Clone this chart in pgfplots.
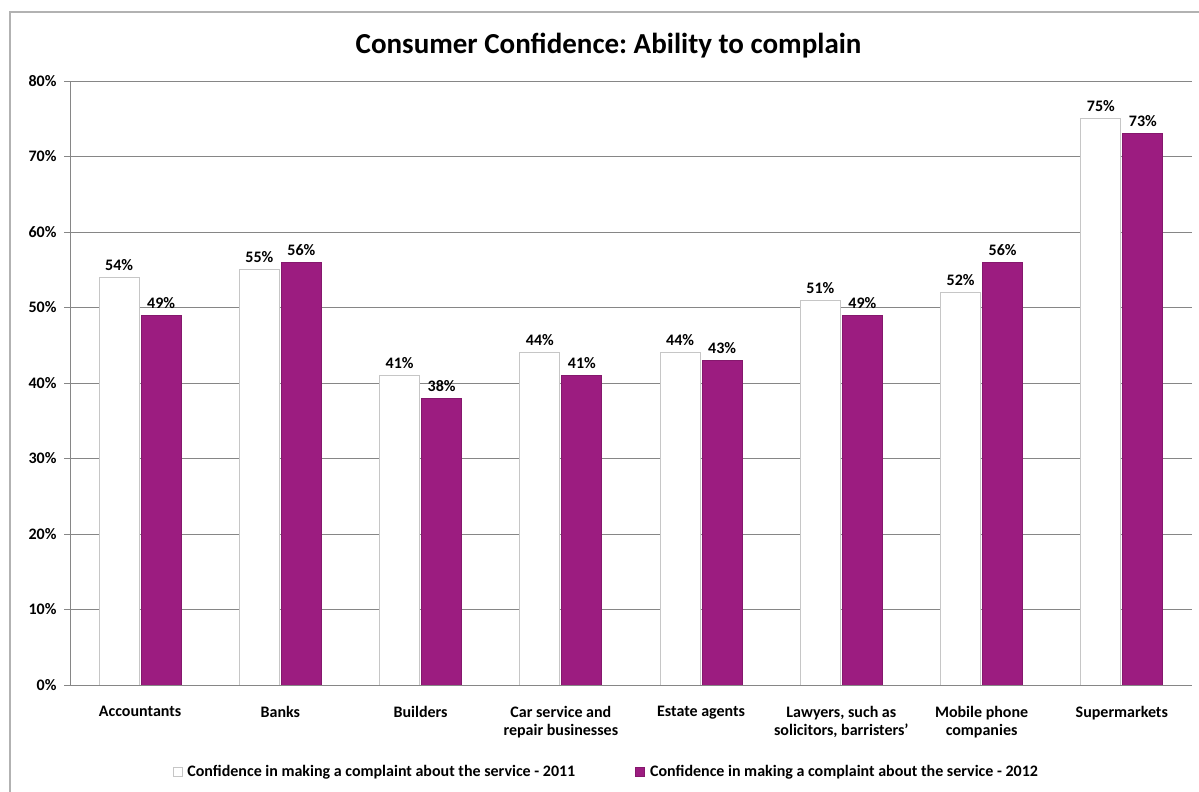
\documentclass[border=0pt]{standalone}
\usepackage{pgfplots}
\pgfplotsset{compat=1.18}
\usepackage{fontspec}
\setmainfont{Carlito}
\frenchspacing
\definecolor{purp}{RGB}{156,28,128}
\definecolor{gridc}{RGB}{134,134,134}
\begin{document}
\begin{tikzpicture}
\useasboundingbox (0,0) rectangle (1199pt,792pt);
\draw[gray!60, line width=1.2pt] (10pt,-2pt) -- (10pt,780pt) -- (1201pt,780pt);
\begin{axis}[
  at={(70pt,107pt)}, anchor=south west,
  width=1122pt, height=604pt, scale only axis,
  ybar, bar width=40pt,
  xmin=0.5, xmax=8.5, ymin=0, ymax=80,
  axis x line=bottom, axis y line=left,
  axis line style={gridc, -},
  x axis line style={-},
  ytick={0,10,...,80},
  yticklabel={\pgfmathprintnumber{\tick}\%},
  ymajorgrids, grid style={gridc, line width=0.8pt},
  tick align=outside,
  major tick length=6pt,
  tick style={gridc},
  xtick={1,...,8},
  x tick style={draw=none},
  xticklabels={Accountants, Banks, Builders, {Car service and\\repair businesses}, Estate agents, {Lawyers, such as\\solicitors, barristers'}, {Mobile phone\\companies}, Supermarkets},
  x tick label style={align=center, yshift=-12pt, font=\bfseries\fontsize{16}{18}\selectfont},
  y tick label style={xshift=-4pt, font=\bfseries\fontsize{16}{18}\selectfont},
  /pgf/number format/assume math mode=true,
  extra x ticks={0.5,1.5,...,8.5},
  extra x tick labels={},
  extra x tick style={grid=none, major tick length=6pt, tick style={draw=gridc}},
  nodes near coords={\pgfmathprintnumber{\pgfplotspointmeta}\%},
  nodes near coords style={font=\bfseries\fontsize{16}{18}\selectfont, text=black, yshift=3pt, /pgf/number format/assume math mode=true},
  title={Consumer Confidence: Ability to complain},
  title style={at={(0.48,1)}, anchor=south, yshift=13pt, font=\bfseries\fontsize{29}{33}\selectfont},
  legend style={at={(0.478,-0.144)}, anchor=center, draw=none, legend columns=2,
    font=\bfseries\fontsize{16}{18}\selectfont},
  /tikz/every even column/.append style={column sep=58pt},
  legend image code/.code={\draw[#1] (0pt,-4.5pt) rectangle (9pt,4.5pt);},
]
\addplot[fill=white, draw=gray!45, line width=0.8pt] coordinates {(1,54) (2,55) (3,41) (4,44) (5,44) (6,51) (7,52) (8,75)};
\addplot[fill=purp, draw=purp!85!black, line width=0.8pt] coordinates {(1,49) (2,56) (3,38) (4,41) (5,43) (6,49) (7,56) (8,73)};
\legend{\hspace{3pt}Confidence in making a complaint about the service - 2011, \hspace{3pt}Confidence in making a complaint about the service - 2012}
\end{axis}
\end{tikzpicture}
\end{document}
